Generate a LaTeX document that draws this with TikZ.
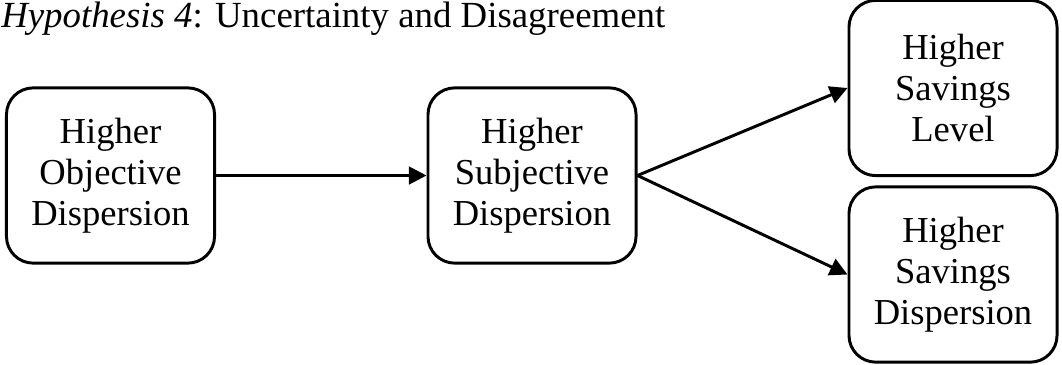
\documentclass[tikz,border=0pt]{standalone}
\usepackage{fontspec}
\setmainfont{Liberation Serif}
\usetikzlibrary{arrows.meta}

\tikzset{
  stage/.style={draw, line width=2.1pt, rounded corners=19pt, minimum width=5.2cm, minimum height=4.38cm,
    align=center, inner sep=0pt, font=\fontsize{26}{29.2}\selectfont},
  link/.style={line width=2.1pt, -{Triangle[length=12.5pt, width=12.5pt]}}
}

\begin{document}
\begin{tikzpicture}[x=0.025cm, y=0.025cm]
        \useasboundingbox (0,0) rectangle (1062,-364);
        \node[anchor=base west, inner sep=0pt, font=\fontsize{26.2}{29.2}\selectfont] (title) at (1,-27) {\textit{Hypothesis 4}: Uncertainty and Disagreement};

        \node[stage] (obj) at (110.5,-175.5) {Higher\\Objective\\Dispersion};
        \node[stage] (subj) at (532,-175.5) {Higher\\Subjective\\Dispersion};
        \node[stage] (level) at (953,-88) {Higher\\Savings\\Level};
        \node[stage] (disp) at (953,-274.5) {Higher\\Savings\\Dispersion};

        \draw[link] (obj) -- (subj); % objective spread feeds perceived spread
        \draw[link] (subj.east) -- (level.west); % upper branch
        \draw[link] (subj.east) -- (disp.west); % lower branch
    \end{tikzpicture}
\end{document}
